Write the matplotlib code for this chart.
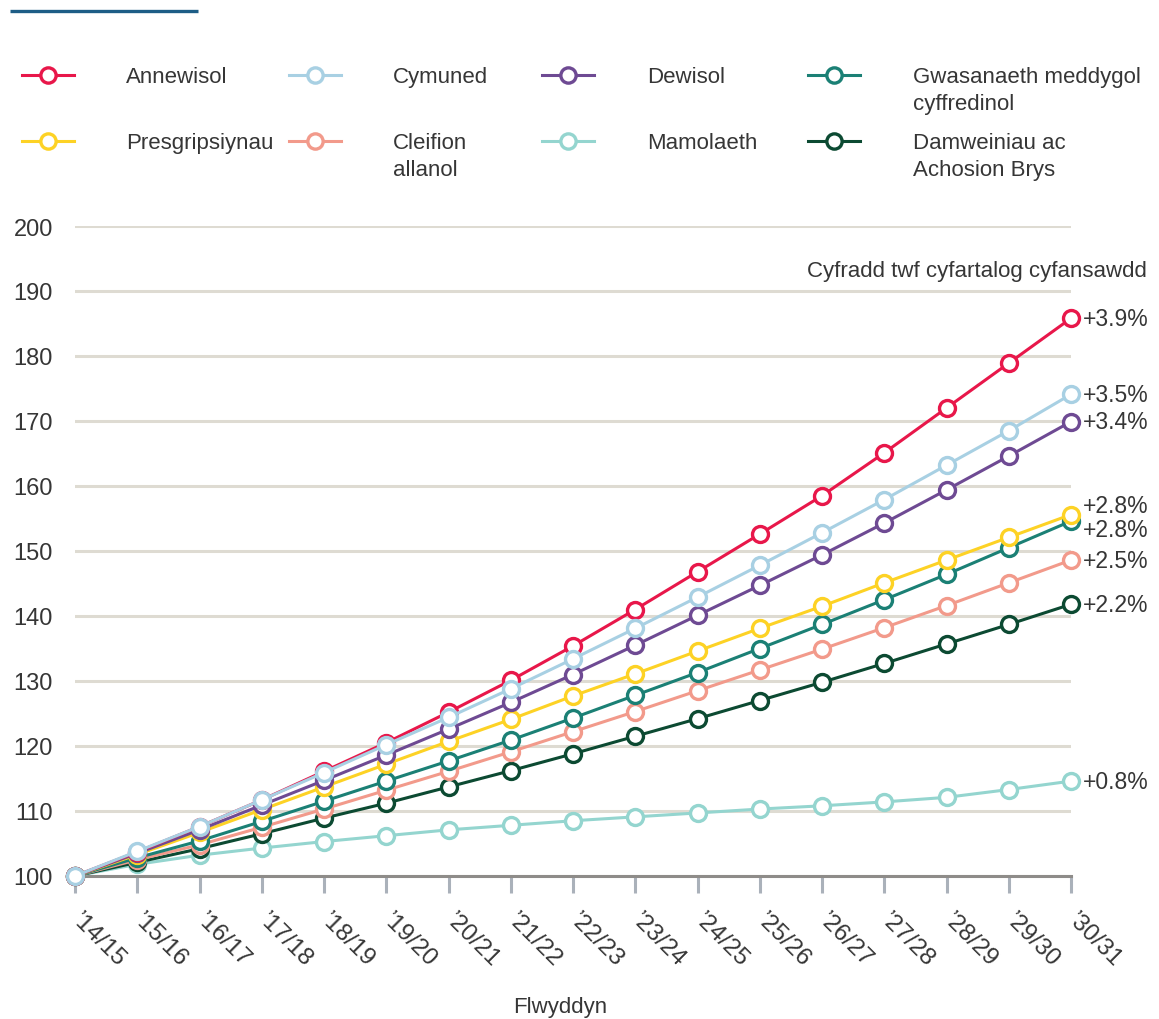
import numpy as np
import matplotlib
matplotlib.use('Agg')
import matplotlib.pyplot as plt
import matplotlib.transforms as mtransforms

plt.rcParams['font.family'] = ['Liberation Sans', 'DejaVu Sans']

# mynegai (2014/15 = 100) ar gyfer pob math o wasanaeth
years = ["’14/15", "’15/16", "’16/17", "’17/18", "’18/19", "’19/20", "’20/21", "’21/22",
         "’22/23", "’23/24", "’24/25", "’25/26", "’26/27", "’27/28", "’28/29", "’29/30", "’30/31"]

annewisol = [100, 103.7, 107.6, 111.7, 116.1, 120.5, 125.2, 130.1, 135.4, 141.0, 146.8,
             152.6, 158.5, 165.1, 172.0, 178.9, 185.8]
cymuned = [100, 103.8, 107.6, 111.7, 115.9, 120.2, 124.4, 128.8, 133.4, 138.1, 142.9,
           147.8, 152.8, 157.9, 163.2, 168.5, 174.1]
dewisol = [100, 103.5, 107.1, 110.9, 114.7, 118.6, 122.6, 126.7, 131.0, 135.5, 140.1,
           144.7, 149.4, 154.3, 159.4, 164.6, 169.9]
presgripsiynau = [100, 103.3, 106.7, 110.2, 113.7, 117.2, 120.7, 124.1, 127.7, 131.1, 134.6,
                  138.1, 141.5, 145.1, 148.6, 152.1, 155.6]
gwasanaeth = [100, 102.8, 105.4, 108.4, 111.5, 114.6, 117.7, 120.9, 124.3, 127.8, 131.3,
              135.0, 138.7, 142.5, 146.4, 150.5, 154.6]
cleifion = [100, 102.5, 104.8, 107.5, 110.3, 113.2, 116.1, 119.1, 122.2, 125.3, 128.5,
            131.7, 134.9, 138.2, 141.6, 145.1, 148.6]
damweiniau = [100, 102.1, 104.2, 106.5, 108.9, 111.2, 113.7, 116.2, 118.8, 121.5, 124.2,
              127.0, 129.8, 132.7, 135.7, 138.7, 141.8]
mamolaeth = [100, 101.8, 103.2, 104.3, 105.3, 106.2, 107.1, 107.8, 108.5, 109.1, 109.7,
             110.3, 110.8, 111.4, 112.1, 113.3, 114.6]

# cyfradd twf cyfartalog cyfansawdd
twf = {'annewisol': '+3.9%', 'cymuned': '+3.5%', 'dewisol': '+3.4%',
       'presgripsiynau': '+2.8%', 'gwasanaeth': '+2.8%', 'cleifion': '+2.5%',
       'mamolaeth': '+0.8%', 'damweiniau': '+2.2%'}

# (enw, gwerthoedd, lliw, label, symud label mewn px)  -- trefn lunio: gwaelod -> brig
series = [
    ('mamolaeth', mamolaeth, '#94d5cf', 'Mamolaeth', 0),
    ('damweiniau', damweiniau, '#0c4a32', 'Damweiniau ac\nAchosion Brys', 0),
    ('cleifion', cleifion, '#f29a8b', 'Cleifion\nallanol', 0),
    ('gwasanaeth', gwasanaeth, '#1b8075', 'Gwasanaeth meddygol\ncyffredinol', -8),
    ('presgripsiynau', presgripsiynau, '#fdd225', 'Presgripsiynau', 9),
    ('dewisol', dewisol, '#6e4a93', 'Dewisol', 0),
    ('annewisol', annewisol, '#e8174a', 'Annewisol', 0),
    ('cymuned', cymuned, '#a8d0e3', 'Cymuned', 0),
]

# trefn yr allwedd (rhes 1 yna rhes 2)
legend_order = ['annewisol', 'cymuned', 'dewisol', 'gwasanaeth',
                'presgripsiynau', 'cleifion', 'mamolaeth', 'damweiniau']

TXT = '#363636'
W, H = 1159, 1020
fig = plt.figure(figsize=(W / 100, H / 100), dpi=100)
ax = fig.add_axes([75 / W, (H - 877) / H, (1071 - 75) / W, (877 - 227) / H])

x = np.arange(len(years))
for key, vals, col, lab, dy in series:
    ax.plot(x, vals, color=col, lw=2.2, marker='o', ms=11.5, mfc='white', mec=col,
            mew=2.4, clip_on=False, zorder=3)
    ax.annotate(twf[key], xy=(x[-1], vals[-1]), xytext=(12, dy), textcoords='offset pixels',
                ha='left', va='center', fontsize=16.5, color=TXT)

ax.set_xlim(0, len(years) - 1)
ax.set_ylim(100, 200)
ax.set_yticks(np.arange(100, 201, 10))
ax.yaxis.grid(True, color='#dedbd2', lw=2.2)
ax.set_axisbelow(True)
for s in ['top', 'left', 'right']:
    ax.spines[s].set_visible(False)
ax.spines['bottom'].set_color('#8e8c89')
ax.spines['bottom'].set_linewidth(2.2)
ax.spines['bottom'].set_zorder(2.5)

ax.tick_params(axis='y', length=0, pad=16, labelsize=17, labelcolor=TXT)
ax.tick_params(axis='x', length=12, width=2.2, color='#aab1ba', pad=11,
               labelsize=17.5, labelcolor=TXT)
ax.set_xticks(x)
ax.set_xticklabels(years, rotation=-45, ha='left', va='top')
shift = mtransforms.ScaledTranslation(-0.08, 0, fig.dpi_scale_trans)
for lbl in ax.get_xticklabels():
    lbl.set_transform(lbl.get_transform() + shift)

# haen mewn picseli ar gyfer yr allwedd, y pennawd a'r teitlau
ov = fig.add_axes([0, 0, 1, 1])
ov.set_xlim(0, W)
ov.set_ylim(H, 0)
ov.axis('off')

ov.plot([10, 198], [12, 12], color='#1d5d86', lw=2.4, solid_capstyle='butt')

styles = {k: (col, lab) for k, _, col, lab, _ in series}
marker_x = [48, 315, 568, 834]
text_x = [126, 393, 647, 913]
row_y = [76, 142]
for i, key in enumerate(legend_order):
    col, lab = styles[key]
    cx, ry = marker_x[i % 4], row_y[i // 4]
    ov.plot([cx - 26, cx + 26], [ry, ry], color=col, lw=2.2)
    ov.plot([cx], [ry], marker='o', ms=11, mfc='white', mec=col, mew=2.4, color=col)
    ov.text(text_x[i % 4], ry - 9, lab, ha='left', va='top', fontsize=16,
            color=TXT, linespacing=1.38)

ov.text(1147, 272, 'Cyfradd twf cyfartalog cyfansawdd', ha='right', va='center',
        fontsize=16, color=TXT)
ov.text(560, 1008, 'Flwyddyn', ha='center', va='center', fontsize=16, color=TXT)

fig.savefig('out.png', dpi=100)
